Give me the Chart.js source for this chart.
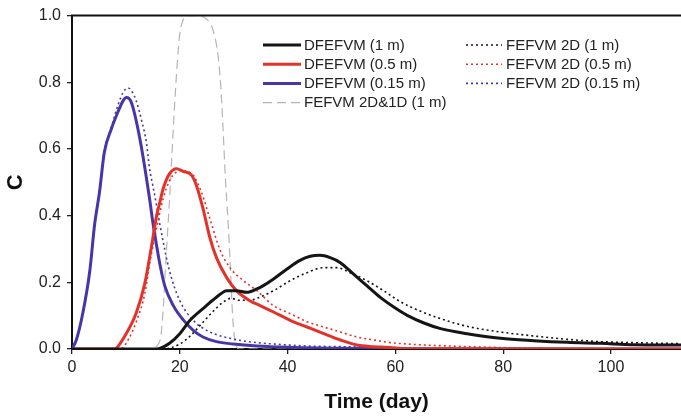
<!DOCTYPE html>
<html>
<head>
<meta charset="utf-8">
<script src="https://cdn.jsdelivr.net/npm/chart.js@4.4.1/dist/chart.umd.min.js"></script>
<style>
  html, body { margin: 0; padding: 0; background: #fff; }
  #wrap { width: 681px; height: 419px; position: relative; }
</style>
</head>
<body>
<div id="wrap"><canvas id="c" width="681" height="419"></canvas></div>
<script>
// ---- Data ----
const xTickValues = [0, 20, 40, 60, 80, 100];
const yTickValues = [0, 0.2, 0.4, 0.6, 0.8, 1.0];

const labels = [
  'DFEFVM (1 m)', 'DFEFVM (0.5 m)', 'DFEFVM (0.15 m)', 'FEFVM 2D&1D (1 m)',
  'FEFVM 2D (1 m)', 'FEFVM 2D (0.5 m)', 'FEFVM 2D (0.15 m)'
];

// DFEFVM (1 m)
const d1Days = [0, 15, 16.3, 18.1, 20, 21.9, 24.3, 26.8, 28.7, 30.5, 32.4, 34.3, 35.5, 37.4, 39.9, 42.3, 44.2, 46, 47.9, 49.8, 52.2, 54.7, 57.2, 59.7, 62.2, 65.3, 68.4, 73.3, 79.5, 85.7, 91.9, 98.1, 104.3, 113];
const d1Vals = [0, 0, 0.002, 0.017, 0.046, 0.086, 0.121, 0.155, 0.175, 0.175, 0.17, 0.18, 0.19, 0.21, 0.24, 0.266, 0.278, 0.281, 0.274, 0.259, 0.225, 0.19, 0.155, 0.126, 0.101, 0.078, 0.061, 0.046, 0.032, 0.025, 0.02, 0.017, 0.013, 0.012];

// DFEFVM (0.5 m)
const d05Days = [0, 8, 8.5, 10.1, 11.9, 13.5, 14.7, 15.7, 16.3, 16.9, 18.1, 19.4, 20.6, 22.2, 23.1, 24.3, 25.6, 26.8, 28.7, 30.5, 33, 34.9, 37.4, 40.5, 43.6, 46.7, 49.8, 52.9, 56, 58.4, 62.4, 113];
const d05Vals = [0, 0, 0.007, 0.047, 0.107, 0.196, 0.303, 0.40, 0.44, 0.48, 0.526, 0.541, 0.533, 0.521, 0.49, 0.422, 0.333, 0.274, 0.214, 0.175, 0.145, 0.13, 0.111, 0.086, 0.066, 0.046, 0.027, 0.012, 0.007, 0.005, 0.001, 0];

// DFEFVM (0.15 m)
const d015Days = [0, 0.8, 2, 3.3, 4.2, 5.1, 6, 7.3, 8.5, 9.5, 10.1, 11, 12.6, 14.4, 15, 15.7, 16.3, 17.2, 18.8, 20.6, 22.5, 24.3, 26.8, 29.9, 34.3, 40, 50, 60, 113];
const d015Vals = [0, 0.027, 0.107, 0.234, 0.374, 0.47, 0.59, 0.66, 0.71, 0.745, 0.754, 0.74, 0.63, 0.45, 0.38, 0.31, 0.255, 0.19, 0.13, 0.088, 0.056, 0.036, 0.022, 0.015, 0.009, 0.005, 0.002, 0.001, 0];

// FEFVM 2D&1D (1 m)
const g1Days = [0, 14, 15, 16, 16.5, 17, 17.5, 18, 18.5, 19, 19.5, 20, 20.7, 21.5, 23, 24.5, 25.5, 26.2, 27.1, 27.6, 28, 28.5, 29, 29.4, 29.8, 30.1, 30.5, 31, 113];
const g1Vals = [0, 0, 0.003, 0.015, 0.04, 0.14, 0.29, 0.42, 0.57, 0.72, 0.85, 0.945, 0.99, 1.0, 1.0, 0.995, 0.98, 0.955, 0.88, 0.79, 0.67, 0.5, 0.37, 0.24, 0.1, 0.04, 0.01, 0, 0];

// FEFVM 2D (1 m)
const f1Days = [0, 17, 20, 22, 24, 26, 28, 29.5, 31, 33, 34.3, 37.4, 40.5, 43.6, 46.7, 49.1, 51.6, 54.7, 57.8, 60.9, 64.7, 68.4, 73.3, 79.5, 85.7, 91.9, 98.1, 104.3, 113];
const f1Vals = [0, 0, 0.015, 0.04, 0.075, 0.11, 0.14, 0.152, 0.146, 0.146, 0.152, 0.175, 0.205, 0.229, 0.244, 0.244, 0.229, 0.205, 0.175, 0.142, 0.113, 0.091, 0.068, 0.051, 0.039, 0.029, 0.022, 0.019, 0.016];

// FEFVM 2D (0.5 m)
const f05Days = [0, 9, 10.5, 12, 13.5, 14.4, 15.7, 16.9, 18.1, 19.3, 20.3, 21.5, 22.5, 24, 25.6, 27.4, 29.3, 31.8, 34.3, 37.4, 40.5, 43.6, 46.7, 49.8, 52.9, 56, 59.1, 62.2, 65.3, 68.4, 76, 86, 113];
const f05Vals = [0, 0, 0.03, 0.085, 0.165, 0.255, 0.363, 0.45, 0.505, 0.53, 0.535, 0.532, 0.521, 0.472, 0.39, 0.30, 0.244, 0.205, 0.175, 0.13, 0.106, 0.082, 0.066, 0.051, 0.036, 0.027, 0.019, 0.015, 0.012, 0.01, 0.006, 0.002, 0];

// FEFVM 2D (0.15 m)
const f015Days = [0, 0.8, 2, 3.3, 4.2, 5.1, 6, 7.3, 8.5, 9.5, 10.4, 11.2, 11.9, 13, 13.8, 14.4, 15, 15.7, 16.3, 18.1, 20, 22.5, 25.6, 29.9, 34.3, 37.4, 43.6, 49.8, 60, 70, 113];
const f015Vals = [0, 0.027, 0.107, 0.234, 0.374, 0.47, 0.59, 0.665, 0.73, 0.77, 0.783, 0.77, 0.745, 0.68, 0.62, 0.54, 0.49, 0.43, 0.374, 0.234, 0.145, 0.086, 0.051, 0.03, 0.019, 0.015, 0.009, 0.007, 0.004, 0.002, 0];

// ---- Build ----
const pts = (xs, ys) => xs.map((x, i) => ({ x: x, y: ys[i] }));

const BLACK = '#151515', RED = '#e3322a', BLUE = '#4836a8', GRAY = '#b5b5b5';
const DOT = [2, 3];

const datasets = [
  { label: labels[0], data: pts(d1Days, d1Vals), borderColor: BLACK, borderWidth: 3, order: 1 },
  { label: labels[1], data: pts(d05Days, d05Vals), borderColor: RED, borderWidth: 3, order: 2 },
  { label: labels[2], data: pts(d015Days, d015Vals), borderColor: BLUE, borderWidth: 3, order: 3 },
  { label: labels[3], data: pts(g1Days, g1Vals), borderColor: GRAY, borderWidth: 1.2, borderDash: [9, 5], order: 7 },
  { label: labels[4], data: pts(f1Days, f1Vals), borderColor: BLACK, borderWidth: 1.6, borderDash: DOT, order: 4 },
  { label: labels[5], data: pts(f05Days, f05Vals), borderColor: RED, borderWidth: 1.6, borderDash: DOT, order: 5 },
  { label: labels[6], data: pts(f015Days, f015Vals), borderColor: BLUE, borderWidth: 1.6, borderDash: DOT, order: 6 }
];
datasets.forEach(d => { d.pointRadius = 0; d.fill = false; d.cubicInterpolationMode = 'monotone'; });

const FONT = "'Liberation Sans', Arial, Helvetica, sans-serif";
const TXT = '#222';

const legendPlugin = {
  id: 'customLegend',
  afterDraw(chart) {
    const ctx = chart.ctx;
    const area = chart.chartArea;
    // top frame line
    ctx.save();
    ctx.strokeStyle = '#111';
    ctx.lineWidth = 2;
    ctx.beginPath();
    ctx.moveTo(area.left - 1, area.top);
    ctx.lineTo(area.right, area.top);
    ctx.stroke();
    ctx.restore();

    const cols = [
      { x0: 263, x1: 301, tx: 304, items: [0, 1, 2, 3] },
      { x0: 466, x1: 502, tx: 506, items: [4, 5, 6] }
    ];
    const rowY = [45, 64.2, 83.4, 102.6];
    ctx.save();
    ctx.font = '15px ' + FONT;
    ctx.textBaseline = 'middle';
    ctx.textAlign = 'left';
    cols.forEach(col => {
      col.items.forEach((di, r) => {
        const ds = chart.data.datasets[di];
        const y = rowY[r];
        ctx.save();
        ctx.strokeStyle = ds.borderColor;
        ctx.lineWidth = ds.borderWidth;
        ctx.setLineDash(ds.borderDash || []);
        ctx.beginPath();
        ctx.moveTo(col.x0, y);
        ctx.lineTo(col.x1, y);
        ctx.stroke();
        ctx.restore();
        ctx.fillStyle = TXT;
        ctx.fillText(ds.label, col.tx, y + 0.5);
      });
    });
    ctx.restore();
  }
};

new Chart(document.getElementById('c'), {
  type: 'line',
  data: { datasets: datasets },
  plugins: [legendPlugin],
  options: {
    responsive: false,
    animation: false,
    devicePixelRatio: 1,
    layout: { padding: { top: 12, right: 0, bottom: 0, left: 0 } },
    plugins: { legend: { display: false }, tooltip: { enabled: false } },
    scales: {
      x: {
        type: 'linear',
        min: 0, max: 113,
        afterBuildTicks: s => { s.ticks = xTickValues.map(v => ({ value: v })); },
        afterFit: s => { s.height = 70; },
        ticks: { font: { family: FONT, size: 16 }, color: TXT, padding: 4, maxRotation: 0 },
        grid: { display: true, drawOnChartArea: false, drawTicks: true, tickLength: 5, color: '#222', lineWidth: 1.3 },
        border: { display: true, color: '#111', width: 2 },
        title: { display: true, text: 'Time (day)', font: { family: FONT, size: 21, weight: 'bold' }, color: '#111', padding: { top: 0, bottom: 4 } }
      },
      y: {
        type: 'linear',
        min: 0, max: 1,
        afterBuildTicks: s => { s.ticks = yTickValues.map(v => ({ value: v })); },
        afterFit: s => { s.width = 72; },
        ticks: { font: { family: FONT, size: 16 }, color: TXT, padding: 6, callback: v => Number(v).toFixed(1) },
        grid: { display: true, drawOnChartArea: false, drawTicks: true, tickLength: 5, color: '#222', lineWidth: 1.3 },
        border: { display: true, color: '#111', width: 2 },
        title: { display: true, text: 'C', font: { family: FONT, size: 22, weight: 'bold' }, color: '#111', padding: { top: 3, bottom: 0 } }
      }
    }
  }
});
</script>
</body>
</html>
